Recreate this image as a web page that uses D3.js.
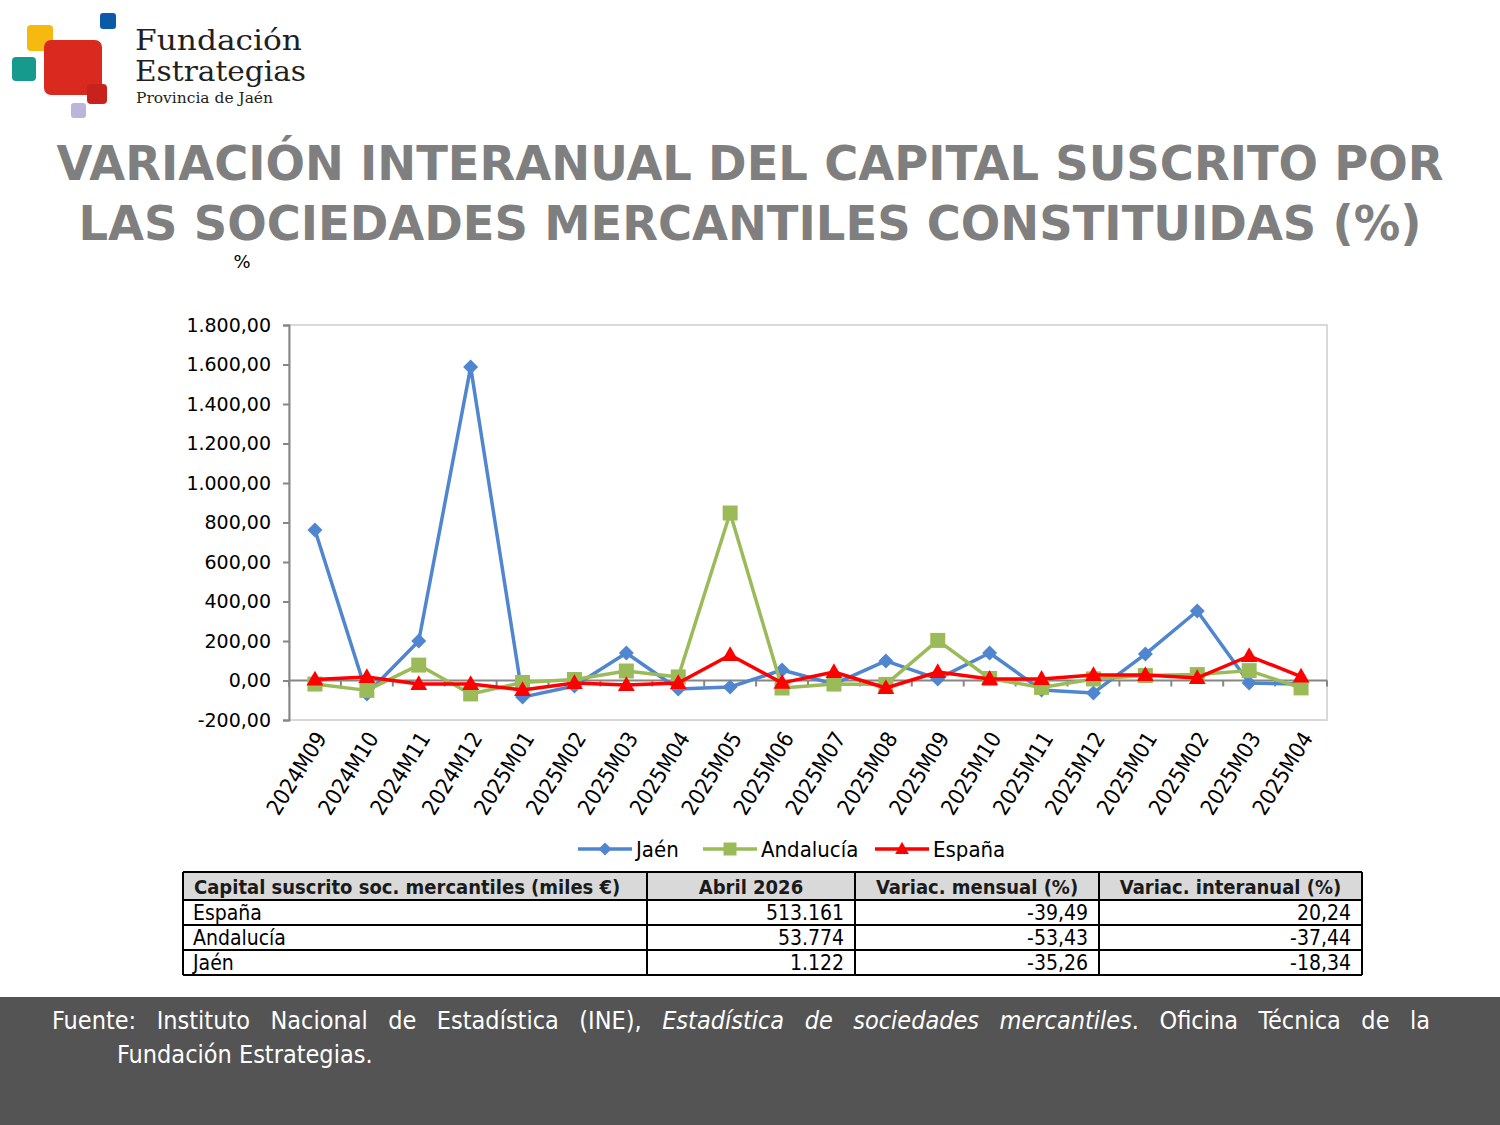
<!DOCTYPE html>
<html>
<head>
<meta charset="utf-8">
<script src="https://cdn.jsdelivr.net/npm/d3@7"></script>
<style>
  body { margin: 0; background: #fff; }
  #wrap { position: relative; width: 1500px; height: 1125px; overflow: hidden; }
  svg { position: absolute; left: 0; top: 0; }
  #fuente { position: absolute; left: 52px; top: 1004px; width: 1378px; color: #fff;
    font-family: "DejaVu Sans Condensed", "DejaVu Sans", sans-serif; font-size: 25px; line-height: 34px; }
  #fuente .l1 { text-align: justify; text-align-last: justify; }
  #fuente .l2 { padding-left: 65px; }
</style>
</head>
<body>
<div id="wrap">
  <svg id="chart" width="1500" height="1125"></svg>
  <div id="fuente">
    <div class="l1">Fuente: Instituto Nacional de Estadística (INE), <i>Estadística de sociedades mercantiles</i>. Oficina Técnica de la</div>
    <div class="l2">Fundación Estrategias.</div>
  </div>
</div>
<script>
// datos
const categories = ["2024M09", "2024M10", "2024M11", "2024M12", "2025M01", "2025M02", "2025M03", "2025M04",
  "2025M05", "2025M06", "2025M07", "2025M08", "2025M09", "2025M10", "2025M11", "2025M12",
  "2025M01", "2025M02", "2025M03", "2025M04"];
const jaen = [762, -68, 200, 1587, -84, -28, 139, -43, -33, 53, -18, 99, 8, 139, -48, -63, 134, 352, -13, -18.34];
const andalucia = [-18, -50, 78, -68, -10, 5, 48, 18, 848, -38, -18, -20, 203, 10, -35, 8, 25, 30, 50, -37.44];
const espana = [5, 18, -18, -18, -48, -13, -23, -13, 129, -12, 43, -38, 43, 8, 8, 28, 28, 13, 124, 20.24];
const yTicks = [-200, 0, 200, 400, 600, 800, 1000, 1200, 1400, 1600, 1800];

const series = [
  {name: "Jaén", values: jaen, color: "#4f86cf", marker: "diamond"},
  {name: "Andalucía", values: andalucia, color: "#9bbb59", marker: "square"},
  {name: "España", values: espana, color: "#ff0000", marker: "triangle"}
];

// tabla inferior
const tableHeader = ["Capital suscrito soc. mercantiles (miles €)", "Abril 2026", "Variac. mensual (%)", "Variac. interanual (%)"];
const tableRows = [
  ["España", "513.161", "-39,49", "20,24"],
  ["Andalucía", "53.774", "-53,43", "-37,44"],
  ["Jaén", "1.122", "-35,26", "-18,34"]
];

const svg = d3.select("#chart");
const es = d3.formatLocale({decimal: ",", thousands: ".", grouping: [3], currency: ["", "€"], minus: "-"});
const fmt = es.format(",.2f");

// ---- logo ----
let logo = svg.append("g");
logo.append("rect").attr("x", 27).attr("y", 25).attr("width", 26).attr("height", 26).attr("rx", 4).attr("fill", "#f6b90f");
logo.append("rect").attr("x", 12).attr("y", 57).attr("width", 24).attr("height", 24).attr("rx", 4).attr("fill", "#179a8e");
logo.append("rect").attr("x", 100).attr("y", 13).attr("width", 16).attr("height", 16).attr("rx", 3).attr("fill", "#0b5aa8");
logo.append("rect").attr("x", 44).attr("y", 40).attr("width", 58).attr("height", 55).attr("rx", 7).attr("fill", "#da2a1f");
logo.append("rect").attr("x", 87).attr("y", 84).attr("width", 20).attr("height", 20).attr("rx", 4).attr("fill", "#c9221c");
logo.append("rect").attr("x", 71).attr("y", 103).attr("width", 15).attr("height", 15).attr("rx", 3).attr("fill", "#bcb5da");
logo.append("text").attr("x", 135).attr("y", 50).attr("font-family", "DejaVu Serif").attr("font-size", 28)
  .attr("textLength", 167).attr("lengthAdjust", "spacingAndGlyphs").attr("fill", "#231f20").text("Fundación");
logo.append("text").attr("x", 135).attr("y", 81).attr("font-family", "DejaVu Serif").attr("font-size", 28)
  .attr("textLength", 171).attr("lengthAdjust", "spacingAndGlyphs").attr("fill", "#231f20").text("Estrategias");
logo.append("text").attr("x", 136).attr("y", 103).attr("font-family", "DejaVu Serif").attr("font-size", 15)
  .attr("textLength", 137).attr("lengthAdjust", "spacingAndGlyphs").attr("fill", "#231f20").text("Provincia de Jaén");

// ---- título ----
let title = svg.append("g").attr("font-family", "DejaVu Sans").attr("font-weight", "bold")
  .attr("font-size", 48).attr("fill", "#7f7f7f").attr("text-anchor", "middle");
title.append("text").attr("x", 750).attr("y", 180).attr("textLength", 1387).attr("lengthAdjust", "spacingAndGlyphs")
  .text("VARIACIÓN INTERANUAL DEL CAPITAL SUSCRITO POR");
title.append("text").attr("x", 750).attr("y", 240).attr("textLength", 1343).attr("lengthAdjust", "spacingAndGlyphs")
  .text("LAS SOCIEDADES MERCANTILES CONSTITUIDAS (%)");

svg.append("text").attr("x", 242).attr("y", 268).attr("text-anchor", "middle")
  .attr("font-family", "DejaVu Sans").attr("font-size", 18).attr("fill", "#000").text("%");

// ---- gráfico ----
const plot = {left: 289, right: 1327, top: 325, bottom: 720};
let x = d3.scaleBand().domain(d3.range(categories.length)).range([plot.left, plot.right]);
let y = d3.scaleLinear().domain([-200, 1800]).range([plot.bottom, plot.top]);
let cx = i => x(i) + x.bandwidth() / 2;

// marco del área de trazado
svg.append("rect").attr("x", plot.left).attr("y", plot.top)
  .attr("width", plot.right - plot.left).attr("height", plot.bottom - plot.top)
  .attr("fill", "none").attr("stroke", "#d9d9d9").attr("stroke-width", 2);

// eje Y
let yAxis = svg.append("g").attr("transform", `translate(${plot.left},0)`)
  .call(d3.axisLeft(y).tickValues(yTicks).tickFormat(fmt).tickSize(6).tickPadding(12));
yAxis.select(".domain").attr("stroke", "#868686").attr("stroke-width", 2);
yAxis.selectAll(".tick line").attr("stroke", "#868686").attr("stroke-width", 2);
yAxis.selectAll(".tick text").attr("font-family", "DejaVu Sans").attr("font-size", 19).attr("fill", "#000");

// eje X en el cero
let xAxis = svg.append("g").attr("transform", `translate(0,${y(0)})`);
xAxis.append("line").attr("x1", plot.left).attr("x2", plot.right)
  .attr("stroke", "#868686").attr("stroke-width", 2);
xAxis.selectAll("line.tk").data(d3.range(categories.length + 1)).join("line").attr("class", "tk")
  .attr("x1", i => i < categories.length ? x(i) : plot.right).attr("x2", i => i < categories.length ? x(i) : plot.right)
  .attr("y1", 0).attr("y2", 6).attr("stroke", "#868686").attr("stroke-width", 2);

// etiquetas de categoría giradas
svg.append("g").selectAll("text").data(categories).join("text")
  .attr("transform", (d, i) => `translate(${cx(i) + 6},${plot.bottom + 14}) rotate(-58)`)
  .attr("text-anchor", "end").attr("dy", "0.35em")
  .attr("font-family", "DejaVu Sans Condensed").attr("font-size", 22).attr("fill", "#000")
  .text(d => d);

// símbolos
function markerPath(type, s) {
  if (type === "diamond") return `M0,${-s}L${s},0L0,${s}L${-s},0Z`;
  if (type === "square") return `M${-s},${-s}H${s}V${s}H${-s}Z`;
  return `M0,${-s * 1.1}L${s * 1.05},${s * 0.75}L${-s * 1.05},${s * 0.75}Z`;
}
let markerSize = {diamond: 7.5, square: 7.5, triangle: 8};

let line = d3.line().x((d, i) => cx(i)).y(d => y(d));
series.forEach(s => {
  let g = svg.append("g");
  g.append("path").attr("d", line(s.values)).attr("fill", "none")
    .attr("stroke", s.color).attr("stroke-width", 3.5).attr("stroke-linejoin", "round");
  g.selectAll("path.mk").data(s.values).join("path").attr("class", "mk")
    .attr("transform", (d, i) => `translate(${cx(i)},${y(d)})`)
    .attr("d", markerPath(s.marker, markerSize[s.marker])).attr("fill", s.color);
});

// leyenda
let legendX = [578, 703, 875];
let legend = svg.append("g").selectAll("g").data(series).join("g")
  .attr("transform", (d, i) => `translate(${legendX[i]},849)`);
legend.append("line").attr("x1", 0).attr("x2", 54).attr("stroke", d => d.color).attr("stroke-width", 3.5);
legend.append("path").attr("transform", "translate(27,0)").attr("d", d => markerPath(d.marker, 6.5)).attr("fill", d => d.color);
legend.append("text").attr("x", 58).attr("y", 0).attr("dy", "0.36em")
  .attr("font-family", "DejaVu Sans Condensed").attr("font-size", 22).attr("fill", "#000").text(d => d.name);

// ---- tabla ----
const colX = [183, 647, 855, 1099, 1362];
const rowY = [872, 900, 925, 950, 975];
let table = svg.append("g").attr("font-family", "DejaVu Sans Condensed").attr("font-size", 21).attr("fill", "#000");
table.append("rect").attr("x", colX[0]).attr("y", rowY[0]).attr("width", colX[4] - colX[0]).attr("height", rowY[1] - rowY[0])
  .attr("fill", "#d9d9d9");
table.selectAll("text.hd").data(tableHeader).join("text").attr("class", "hd")
  .attr("x", (d, i) => i === 0 ? colX[0] + 11 : (colX[i] + colX[i + 1]) / 2)
  .attr("y", rowY[0] + 22).attr("text-anchor", (d, i) => i === 0 ? "start" : "middle")
  .attr("font-weight", "bold").attr("font-size", 20).attr("fill", "#1a1a1a").text(d => d);
tableRows.forEach((r, ri) => {
  table.selectAll("text.r" + ri).data(r).join("text").attr("class", "r" + ri)
    .attr("x", (d, i) => i === 0 ? colX[0] + 10 : colX[i + 1] - 11)
    .attr("y", rowY[ri + 1] + 20).attr("text-anchor", (d, i) => i === 0 ? "start" : "end")
    .text(d => d);
});
// líneas de la tabla
rowY.forEach(yy => table.append("line").attr("x1", colX[0]).attr("x2", colX[4]).attr("y1", yy).attr("y2", yy)
  .attr("stroke", "#000").attr("stroke-width", 2));
colX.forEach(xx => table.append("line").attr("x1", xx).attr("x2", xx).attr("y1", rowY[0]).attr("y2", rowY[4])
  .attr("stroke", "#000").attr("stroke-width", 2));

// ---- pie ----
svg.append("rect").attr("x", 0).attr("y", 997).attr("width", 1500).attr("height", 128).attr("fill", "#545454");
</script>
</body>
</html>
